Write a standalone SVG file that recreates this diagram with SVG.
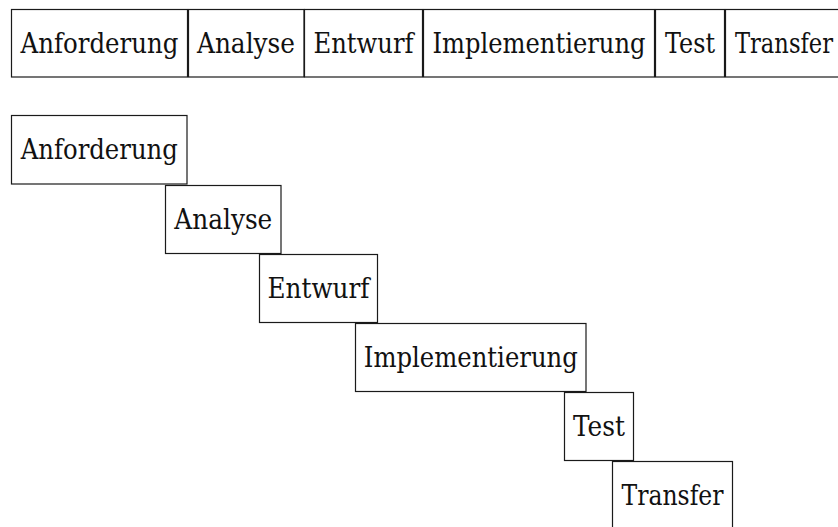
<svg xmlns="http://www.w3.org/2000/svg" width="838" height="527" viewBox="0 0 838 527">
  <style>
    .box { fill: #ffffff; stroke: #1a1a1a; stroke-width: 1.2; }
    .lbl { font-family: 'DejaVu Serif', serif; font-size: 28px; fill: #111111; text-anchor: middle; }
  </style>
  <rect width="838" height="527" fill="#ffffff"/>

  <!-- Phase row: adjacent boxes -->
  <g id="row">
    <g id="row-anforderung">
      <rect class="box" x="11.5" y="9.5" width="176" height="67.5"/>
      <text class="lbl" x="99.5" y="52.5" textLength="158" lengthAdjust="spacingAndGlyphs">Anforderung</text>
    </g>
    <g id="row-analyse">
      <rect class="box" x="188.5" y="9.5" width="115.5" height="67.5"/>
      <text class="lbl" x="246" y="52.5" textLength="98" lengthAdjust="spacingAndGlyphs">Analyse</text>
    </g>
    <g id="row-entwurf">
      <rect class="box" x="304.5" y="9.5" width="118" height="67.5"/>
      <text class="lbl" x="363.5" y="52.5" textLength="100" lengthAdjust="spacingAndGlyphs">Entwurf</text>
    </g>
    <g id="row-implementierung">
      <rect class="box" x="423.5" y="9.5" width="231" height="67.5"/>
      <text class="lbl" x="539" y="52.5" textLength="213" lengthAdjust="spacingAndGlyphs">Implementierung</text>
    </g>
    <g id="row-test">
      <rect class="box" x="655.5" y="9.5" width="69" height="67.5"/>
      <text class="lbl" x="690" y="52.5" textLength="50" lengthAdjust="spacingAndGlyphs">Test</text>
    </g>
    <g id="row-transfer">
      <rect class="box" x="725.5" y="9.5" width="120" height="67.5"/>
      <text class="lbl" x="784" y="52.5" textLength="98" lengthAdjust="spacingAndGlyphs">Transfer</text>
    </g>
  </g>

  <!-- Cascade: each phase offset down and right -->
  <g id="cascade">
    <g id="step-anforderung">
      <rect class="box" x="11.5" y="115.5" width="175.5" height="68.5"/>
      <text class="lbl" x="99.3" y="159.3" textLength="157" lengthAdjust="spacingAndGlyphs">Anforderung</text>
    </g>
    <g id="step-analyse">
      <rect class="box" x="165.5" y="185.5" width="115.5" height="68"/>
      <text class="lbl" x="223.3" y="228.8" textLength="98" lengthAdjust="spacingAndGlyphs">Analyse</text>
    </g>
    <g id="step-entwurf">
      <rect class="box" x="259.5" y="254.5" width="118" height="68"/>
      <text class="lbl" x="318.5" y="297.8" textLength="102" lengthAdjust="spacingAndGlyphs">Entwurf</text>
    </g>
    <g id="step-implementierung">
      <rect class="box" x="355.5" y="323.5" width="230.5" height="68"/>
      <text class="lbl" x="470.8" y="366.8" textLength="214" lengthAdjust="spacingAndGlyphs">Implementierung</text>
    </g>
    <g id="step-test">
      <rect class="box" x="564.5" y="392.5" width="69" height="68"/>
      <text class="lbl" x="599" y="436" textLength="52" lengthAdjust="spacingAndGlyphs">Test</text>
    </g>
    <g id="step-transfer">
      <rect class="box" x="612.5" y="461.5" width="120" height="68"/>
      <text class="lbl" x="672.5" y="505.2" textLength="102" lengthAdjust="spacingAndGlyphs">Transfer</text>
    </g>
  </g>
</svg>
